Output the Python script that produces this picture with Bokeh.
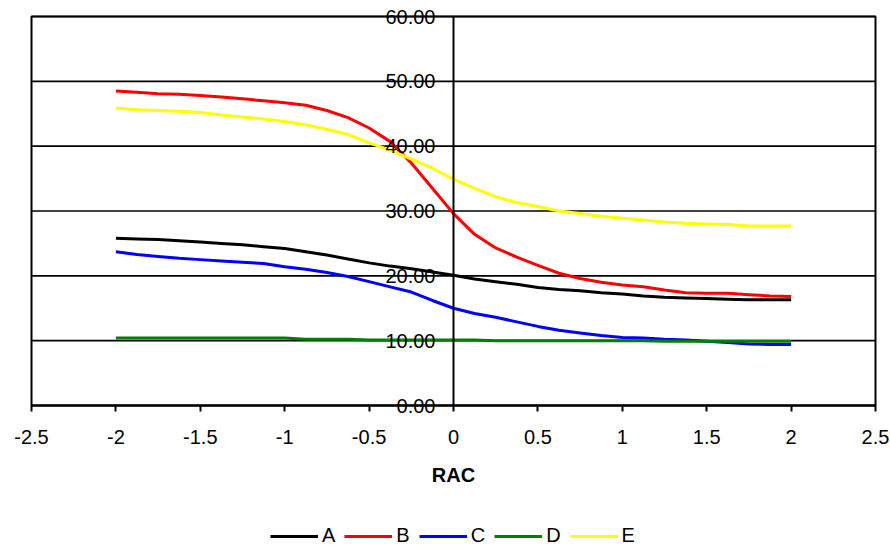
from bokeh.plotting import figure
from bokeh.models import Range1d, FixedTicker, Legend, LegendItem, BoxAnnotation
from bokeh.embed import file_html
from bokeh.resources import INLINE

# ---- data ----
x_vals = [-2, -1.875, -1.75, -1.625, -1.5, -1.375, -1.25, -1.125, -1, -0.875, -0.75, -0.625,
          -0.5, -0.375, -0.25, -0.125, 0, 0.125, 0.25, 0.375, 0.5, 0.625, 0.75, 0.875,
          1, 1.125, 1.25, 1.375, 1.5, 1.625, 1.75, 1.875, 2]

series_A = [25.8, 25.7, 25.6, 25.4, 25.2, 25.0, 24.8, 24.5, 24.2, 23.7, 23.2, 22.6,
            22.0, 21.5, 21.1, 20.6, 20.1, 19.5, 19.1, 18.7, 18.2, 17.9, 17.7, 17.4,
            17.2, 16.9, 16.7, 16.6, 16.5, 16.4, 16.3, 16.3, 16.3]
series_B = [48.5, 48.3, 48.1, 48.0, 47.8, 47.6, 47.3, 47.0, 46.7, 46.3, 45.5, 44.4,
            42.8, 40.7, 37.4, 33.5, 29.6, 26.4, 24.3, 22.9, 21.6, 20.4, 19.6, 19.0,
            18.6, 18.3, 17.8, 17.4, 17.3, 17.3, 17.1, 16.9, 16.8]
series_C = [23.7, 23.3, 23.0, 22.7, 22.5, 22.3, 22.1, 21.9, 21.4, 21.0, 20.5, 19.9,
            19.1, 18.3, 17.5, 16.2, 15.0, 14.2, 13.6, 12.9, 12.2, 11.6, 11.2, 10.8,
            10.5, 10.4, 10.2, 10.1, 9.9, 9.7, 9.5, 9.4, 9.4]
series_D = [10.4, 10.4, 10.4, 10.4, 10.4, 10.4, 10.4, 10.4, 10.4, 10.2, 10.2, 10.2,
            10.1, 10.1, 10.1, 10.1, 10.1, 10.1, 10.0, 10.0, 10.0, 10.0, 10.0, 10.0,
            10.0, 10.0, 9.9, 9.9, 9.9, 9.9, 9.9, 9.9, 9.9]
series_E = [45.9, 45.6, 45.5, 45.4, 45.2, 44.8, 44.5, 44.2, 43.8, 43.3, 42.6, 41.8,
            40.5, 39.4, 38.0, 36.6, 34.9, 33.5, 32.2, 31.3, 30.7, 30.0, 29.6, 29.2,
            28.9, 28.6, 28.3, 28.1, 28.0, 27.9, 27.7, 27.7, 27.7]

series_names = ["A", "B", "C", "D", "E"]
series_colors = ["#000000", "#ff0000", "#0000ff", "#008000", "#ffff00"]

x_ticks = [-2.5, -2, -1.5, -1, -0.5, 0, 0.5, 1, 1.5, 2, 2.5]
x_tick_labels = ["-2.5", "-2", "-1.5", "-1", "-0.5", "0", "0.5", "1", "1.5", "2", "2.5"]
y_ticks = [0, 10, 20, 30, 40, 50, 60]
y_tick_labels = ["0.00", "10.00", "20.00", "30.00", "40.00", "50.00", "60.00"]
x_title = "RAC"

FONT = "Liberation Sans"

# ---- layout (pixels) ----
W, H = 890, 547
BOX_L, BOX_R, BOX_T, BOX_B = 31, 875, 16, 405
px_x = (BOX_R - BOX_L) / (x_ticks[-1] - x_ticks[0])
px_y = (BOX_B - BOX_T) / (y_ticks[-1] - y_ticks[0])
x0 = x_ticks[0] - BOX_L / px_x
y1 = y_ticks[-1] + BOX_T / px_y
y0 = y_ticks[0] - (H - BOX_B) / px_y

p = figure(width=W, height=H, output_backend="svg", toolbar_location=None,
           x_range=Range1d(x0, x0 + W / px_x), y_range=Range1d(y0, y1),
           min_border_left=0, min_border_right=0, min_border_top=0,
           min_border_bottom=0)
p.background_fill_color = "white"
p.border_fill_color = "white"
p.outline_line_color = None
p.xgrid.visible = False
p.ygrid.visible = False

# horizontal grid lines across the plot box
n = len(y_ticks)
p.segment(x0=[x_ticks[0]] * n, x1=[x_ticks[-1]] * n, y0=y_ticks, y1=y_ticks,
          line_color="#000000", line_width=1.6)

# plot box border
p.add_layout(BoxAnnotation(left=x_ticks[0], right=x_ticks[-1],
                           bottom=y_ticks[0], top=y_ticks[-1],
                           fill_color=None, fill_alpha=0,
                           line_color="#000000", line_alpha=1.0, line_width=2))

# x axis at y = 0
xa = p.xaxis[0]
xa.fixed_location = 0
xa.bounds = (x_ticks[0], x_ticks[-1])
xa.ticker = FixedTicker(ticks=x_ticks)
xa.major_label_overrides = {t: l for t, l in zip(x_ticks, x_tick_labels)}
xa.axis_line_color = "#000000"
xa.axis_line_width = 2
xa.major_tick_line_color = "#000000"
xa.major_tick_line_width = 2
xa.major_tick_out = 6
xa.major_tick_in = 0
xa.minor_tick_line_color = None
xa.major_label_text_font = FONT
xa.major_label_text_font_size = "20px"
xa.major_label_text_color = "#000000"
xa.major_label_standoff = 18
xa.axis_label = x_title
xa.axis_label_text_font = FONT
xa.axis_label_text_font_size = "20px"
xa.axis_label_text_font_style = "bold"
xa.axis_label_text_color = "#000000"
xa.axis_label_standoff = 17

# y axis crossing at x = 0
ya = p.yaxis[0]
ya.fixed_location = 0
ya.bounds = (y_ticks[0], y_ticks[-1])
ya.ticker = FixedTicker(ticks=y_ticks)
ya.major_label_overrides = {t: l for t, l in zip(y_ticks, y_tick_labels)}
ya.axis_line_color = "#000000"
ya.axis_line_width = 2
ya.major_tick_line_color = None
ya.major_tick_out = 0
ya.major_tick_in = 0
ya.minor_tick_line_color = None
ya.major_label_text_font = FONT
ya.major_label_text_font_size = "20px"
ya.major_label_text_color = "#000000"
ya.major_label_standoff = 18

all_series = [series_A, series_B, series_C, series_D, series_E]
items = []
for name, col, ys in zip(series_names, series_colors, all_series):
    r = p.line(x_vals, ys, line_color=col, line_width=3)
    items.append(LegendItem(label=name, renderers=[r]))

legend = Legend(items=items, orientation="horizontal", location=(270, 0),
                glyph_width=48, glyph_height=16, label_height=16, label_width=0,
                label_standoff=4, spacing=9, padding=0, margin=0,
                label_text_font=FONT, label_text_font_size="20px",
                label_text_color="#000000",
                border_line_color=None, background_fill_alpha=0)
p.add_layout(legend, "center")

open("out.html", "w").write(file_html(p, INLINE))
